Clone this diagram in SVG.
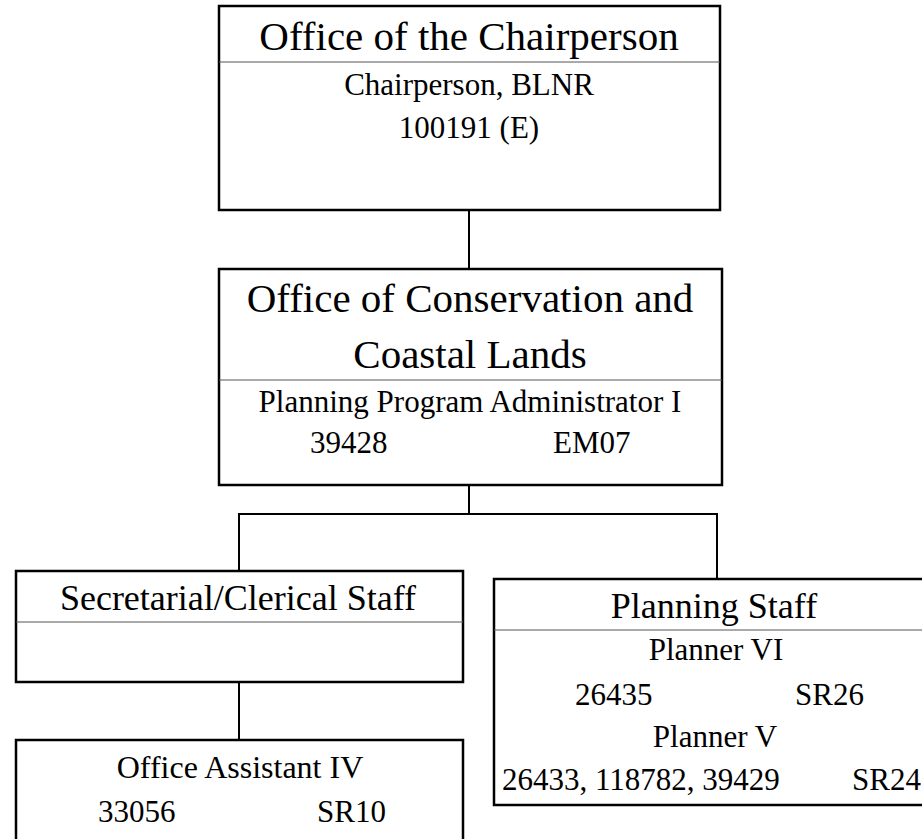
<svg xmlns="http://www.w3.org/2000/svg" width="922" height="839" viewBox="0 0 922 839">
<style>
.box{fill:#fff;stroke:#000;stroke-width:2.5}
.div{stroke:#555;stroke-width:1}
.conn{fill:none;stroke:#000;stroke-width:2}
text{font-family:"Liberation Serif","Times New Roman",serif;fill:#000}
.t{font-size:41px;text-anchor:middle}
.h{font-size:36px;text-anchor:middle}
.b{font-size:31px}
.c{text-anchor:middle}
</style>
<rect width="922" height="839" fill="#fff"/>
<g id="connectors">
<line class="conn" x1="469" y1="210" x2="469" y2="269"/>
<line class="conn" x1="469" y1="485" x2="469" y2="514"/>
<polyline class="conn" points="239,571 239,514 717,514 717,579"/>
<line class="conn" x1="239" y1="682" x2="239" y2="740"/>
</g>
<g id="chair">
<rect class="box" x="219" y="6" width="501" height="204"/>
<line class="div" x1="219" y1="62" x2="720" y2="62"/>
<text class="t" x="469" y="50">Office of the Chairperson</text>
<text class="b c" x="469" y="95">Chairperson, BLNR</text>
<text class="b c" x="469" y="138">100191 (E)</text>
</g>
<g id="occl">
<rect class="box" x="219" y="269" width="503" height="216"/>
<line class="div" x1="219" y1="380" x2="722" y2="380"/>
<text class="t" x="470" y="312">Office of Conservation and</text>
<text class="t" x="470" y="368">Coastal Lands</text>
<text class="b c" x="470" y="412">Planning Program Administrator I</text>
<text class="b" x="310" y="453">39428</text>
<text class="b" x="553" y="453">EM07</text>
</g>
<g id="secretarial">
<rect class="box" x="16" y="571" width="447" height="111"/>
<line class="div" x1="16" y1="622" x2="463" y2="622"/>
<text class="h" x="238" y="610">Secretarial/Clerical Staff</text>
</g>
<g id="officeassistant">
<rect class="box" x="16" y="740" width="447" height="110"/>
<text class="c" x="240" y="778" font-size="32">Office Assistant IV</text>
<text class="b" x="98" y="822">33056</text>
<text class="b" x="317" y="822">SR10</text>
</g>
<g id="planning">
<rect class="box" x="494" y="579" width="440" height="226"/>
<line class="div" x1="494" y1="630" x2="934" y2="630"/>
<text class="h" x="714" y="618">Planning Staff</text>
<text class="b c" x="716" y="660">Planner VI</text>
<text class="b" x="575" y="705">26435</text>
<text class="b" x="795" y="705">SR26</text>
<text class="b c" x="715" y="747">Planner V</text>
<text class="b" x="502" y="790">26433, 118782, 39429</text>
<text class="b" x="852" y="790">SR24</text>
</g>
</svg>
